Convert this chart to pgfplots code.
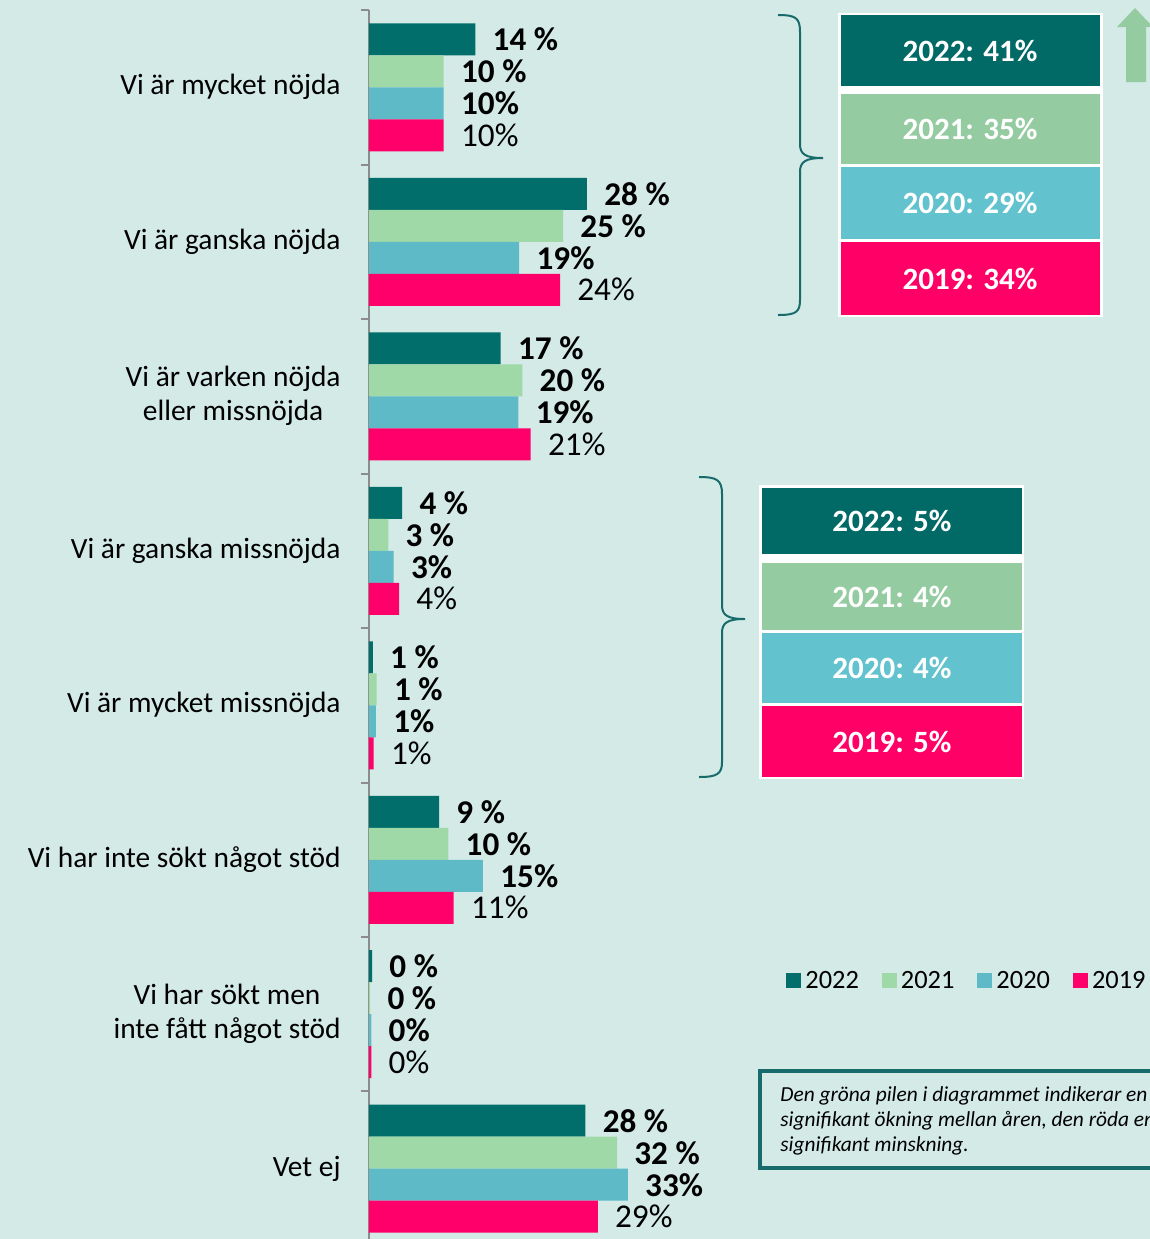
\documentclass[border=0pt]{standalone}
\usepackage{pgfplots}
\pgfplotsset{compat=1.18}
\usepackage{fontspec}
\setmainfont{Carlito}
\definecolor{bg}{HTML}{D3EAE6}
\definecolor{c22}{HTML}{016E6B}
\definecolor{c21}{HTML}{A0D9A8}
\definecolor{c20}{HTML}{5EBAC6}
\definecolor{c19}{HTML}{FF006A}
\definecolor{b22}{HTML}{016966}
\definecolor{b21}{HTML}{94CBA0}
\definecolor{b20}{HTML}{62C3CF}
\definecolor{b19}{HTML}{FF0066}
\definecolor{br}{HTML}{176B6B}
\definecolor{axgray}{HTML}{8C8C8C}
\begin{document}
\begin{tikzpicture}[x=0.5pt,y=-0.5pt]
\useasboundingbox (0,0) rectangle (1150,1239);
\fill[bg] (0,0) rectangle (1150,1239);
\begin{scope}
\clip (0,0) rectangle (1150,1239);
\begin{axis}[
  at={(184.5pt,-5pt)}, anchor=north west,
  scale only axis, width=390.5pt, height=614.5pt,
  xbar, bar width=16pt,
  xmin=0, xmax=101.4, ymin=-0.5, ymax=7.455, y dir=reverse,
  axis x line=none, axis y line*=left,
  y axis line style={draw=axgray, line width=1pt},
  ytick={0,...,7},
  yticklabels={Vi är mycket nöjda, Vi är ganska nöjda, {Vi är varken nöjda\\eller missnöjda}, Vi är ganska missnöjda, Vi är mycket missnöjda, Vi har inte sökt något stöd, {Vi har sökt men\\inte fått något stöd}, Vet ej},
  minor ytick={-0.5,0.5,...,7.5},
  major tick length=0pt, minor tick length=4pt, tick align=outside,
  minor tick style={draw=axgray, line width=1pt},
  yticklabel style={font=\fontsize{14.7}{17}\selectfont, align=center, anchor=east, inner sep=0pt, xshift=-14pt},
  nodes near coords style={anchor=west, inner sep=0pt, xshift=8.5pt, font=\fontsize{16.6}{18}\selectfont, text=black},
  point meta=explicit symbolic,
  legend style={at={(0.534,0.21)}, anchor=west, legend columns=4, draw=none, fill=none,
    font=\fontsize{13.2}{15}\selectfont, inner sep=0pt,
    /tikz/every even column/.append style={column sep=9.5pt}},
  legend image code/.code={\fill[#1] (0pt,-3.75pt) rectangle (7.5pt,3.75pt);},
]
\addplot[fill=c22, draw=none, bar shift=24pt, nodes near coords={\bfseries\pgfplotspointmeta~\%}] table[x=v,y=c,meta=l]{
c v l
0 13.8 14
1 28.3 28
2 17.1 17
3 4.3 4
4 0.5 1
5 9.1 9
6 0.4 0
7 28.1 28
};
\addplot[fill=c21, draw=none, bar shift=8pt, nodes near coords={\bfseries\pgfplotspointmeta~\%}] table[x=v,y=c,meta=l]{
c v l
0 9.7 10
1 25.2 25
2 19.9 20
3 2.5 3
4 1.0 1
5 10.3 10
6 0.15 0
7 32.2 32
};
\addplot[fill=c20, draw=none, bar shift=-8pt, nodes near coords={\bfseries\pgfplotspointmeta\%}] table[x=v,y=c,meta=l]{
c v l
0 9.7 10
1 19.5 19
2 19.4 19
3 3.2 3
4 0.9 1
5 14.8 15
6 0.3 0
7 33.6 33
};
\addplot[fill=c19, draw=none, bar shift=-24pt, nodes near coords={\pgfplotspointmeta\%}] table[x=v,y=c,meta=l]{
c v l
0 9.7 10
1 24.8 24
2 21.0 21
3 3.9 4
4 0.6 1
5 11.0 11
6 0.3 0
7 29.7 29
};
\legend{2022,2021,2020,2019}
\end{axis}

% upper brace and boxes
\draw[br, line width=1pt] (778,15) .. controls (796,15) and (800,18) .. (800,32) -- (800,144)
  .. controls (800,154) and (805,158) .. (823,158)
  .. controls (805,158) and (800,162) .. (800,172) -- (800,300)
  .. controls (800,312) and (796,315) .. (778,315);
\fill[white] (838,13) rectangle (1103,317);
\fill[b22] (841,15) rectangle (1100,86);
\fill[b21] (841,94) rectangle (1100,164);
\fill[b20] (841,167) rectangle (1100,239);
\fill[b19] (841,242) rectangle (1100,315);
\begin{scope}[every node/.style={text=white, font=\fontsize{15.5}{17}\selectfont\bfseries}]
\node at (970,50.5) {2022: 41\%};
\node at (970,129) {2021: 35\%};
\node at (970,203) {2020: 29\%};
\node at (970,278.5) {2019: 34\%};
\end{scope}
\fill[b21] (1126,82) -- (1126,27) -- (1117,27) -- (1135,8) -- (1153,27) -- (1146,27) -- (1146,82) -- cycle;

% lower brace and boxes
\draw[br, line width=1pt] (699,477) .. controls (717,477) and (722,480) .. (722,494) -- (722,605)
  .. controls (722,615) and (727,619) .. (745,619)
  .. controls (727,619) and (722,623) .. (722,633) -- (722,762)
  .. controls (722,774) and (717,777) .. (699,777);
\fill[white] (759,485) rectangle (1024,779);
\fill[b22] (762,488) rectangle (1022,554);
\fill[b21] (762,563) rectangle (1022,630);
\fill[b20] (762,633) rectangle (1022,703);
\fill[b19] (762,706) rectangle (1022,777);
\begin{scope}[every node/.style={text=white, font=\fontsize{15.5}{17}\selectfont\bfseries}]
\node at (892,521) {2022: 5\%};
\node at (892,596.5) {2021: 4\%};
\node at (892,668) {2020: 4\%};
\node at (892,741.5) {2019: 5\%};
\end{scope}

% note box
\draw[br, line width=2pt] (760,1071) rectangle (1180,1167.5);
\begin{scope}[every node/.style={anchor=base west, inner sep=0pt, font=\fontsize{10.7}{12.5}\selectfont\itshape}]
\node at (780,1101) {Den gröna pilen i diagrammet indikerar en};
\node at (780,1126) {signifikant ökning mellan åren, den röda en};
\node at (780,1151) {signifikant minskning.};
\end{scope}
\end{scope}
\end{tikzpicture}
\end{document}
